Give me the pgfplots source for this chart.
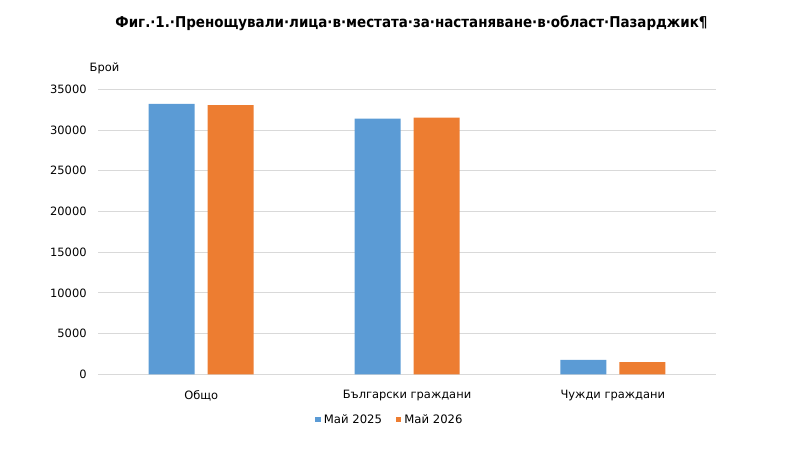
\documentclass[border=0pt]{standalone}
\usepackage{fontspec}
\setmainfont{DejaVu Sans}
\newfontfamily\titlefont{DejaVu Sans Condensed}
\usepackage{pgfplots}
\pgfplotsset{compat=1.18}
\definecolor{barblue}{HTML}{5B9BD5}
\definecolor{barorange}{HTML}{ED7D31}
\definecolor{gridgray}{HTML}{D9D9D9}

\begin{document}
\begin{tikzpicture}
    \path (0,0) rectangle (800bp,450bp);

    \begin{axis}[
        at={(98.3bp,75.7bp)}, anchor=south west,
        scale only axis,
        width=617.4bp, height=285bp,
        ybar=13bp, bar width=46bp,
        xmin=-0.5, xmax=2.5,
        ymin=0, ymax=35000,
        xtick=data,
        xticklabels={Общо,Български граждани,Чужди граждани},
        ytick={0,5000,...,35000},
        axis line style={draw=none},
        tick style={draw=none},
        ymajorgrids,
        grid style={gridgray, line width=0.9bp},
        /pgf/number format/assume math mode=true,
        scaled y ticks=false,
        yticklabel={\pgfmathprintnumber[1000 sep={}]{\tick}},
        tick label style={font=\fontsize{11.5}{13}\selectfont, text=black},
        yticklabel style={anchor=east, inner sep=0pt, xshift=-11.5bp},
        xticklabel style={anchor=center, inner sep=0pt, yshift=-17bp},
        legend columns=2,
        legend style={at={(0.4725,-0.159)}, anchor=center, draw=none,
            font=\fontsize{11.7}{13}\selectfont,
            /tikz/every odd column/.append style={column sep=1bp},
            /tikz/every even column/.append style={column sep=12bp}},
        legend image code/.code={\fill[#1, draw=none] (0bp,-2.7bp) rectangle (5.4bp,2.7bp);},
    ]
    \addplot[fill=barblue, draw=none] coordinates {(0,33200) (1,31400) (2,1780)};
    \addplot[fill=barorange, draw=none] coordinates {(0,33050) (1,31520) (2,1490)};
    \legend{Май 2025,Май 2026}
    \end{axis}

    \node[font=\fontsize{11.5}{13}\selectfont] at (104.5bp,382bp) {Брой};
    \node[font=\titlefont\bfseries\fontsize{15}{17}\selectfont] at (411.5bp,427bp)
        {Фиг.·1.·Пренощували·лица·в·местата·за·настаняване·в·област·Пазарджик¶};
\end{tikzpicture}
\end{document}
